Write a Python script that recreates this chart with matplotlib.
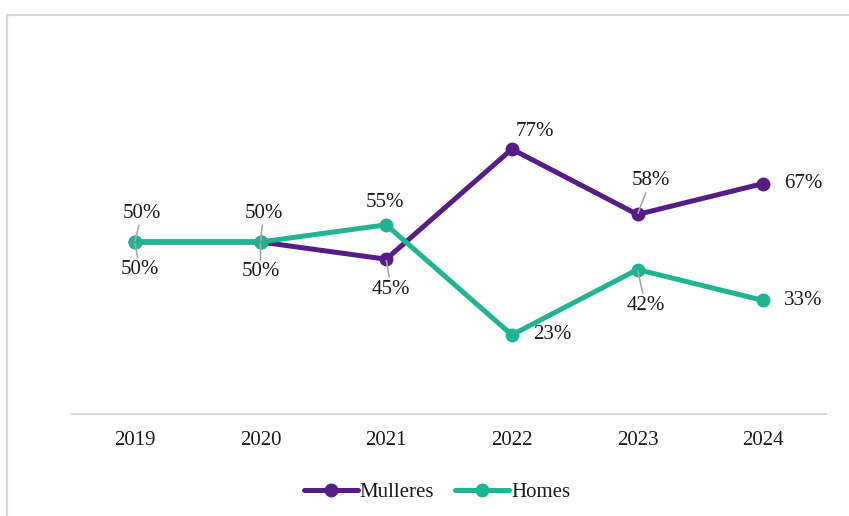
import matplotlib
matplotlib.use("Agg")
import matplotlib.pyplot as plt
from matplotlib.lines import Line2D

years = ["2019", "2020", "2021", "2022", "2023", "2024"]
mulleres = [50, 50, 45, 77, 58, 67]
homes = [50, 50, 55, 23, 42, 33]

purple = "#581C87"
teal = "#20B493"
grey_line = "#D9D9D9"
text_col = "#1A1A1A"
fs = 15

plt.rcParams["font.family"] = ["Liberation Serif", "DejaVu Serif"]

W, H = 849, 516
fig = plt.figure(figsize=(W / 100, H / 100), dpi=100)
ax = fig.add_axes([72 / W, 102 / H, 754 / W, 344 / H])

x = list(range(len(years)))
ax.plot(x, mulleres, color=purple, lw=3.6, marker="o", ms=9, label="Mulleres",
        solid_capstyle="round", zorder=3)
ax.plot(x, homes, color=teal, lw=3.6, marker="o", ms=9, label="Homes",
        solid_capstyle="round", zorder=4)

ax.set_xlim(-0.5, len(years) - 0.5)
ax.set_ylim(0, 100)
ax.set_xticks(x)
ax.set_xticklabels(years, fontsize=fs, color=text_col)
ax.tick_params(axis="x", length=0, pad=12)
ax.set_yticks([])
for s in ["top", "right", "left"]:
    ax.spines[s].set_visible(False)
ax.spines["bottom"].set_color(grey_line)
ax.spines["bottom"].set_linewidth(1.5)


# label offsets in pixels (dx right, dy down) and whether a leader line is drawn
def px(dx, dy):
    return (dx * 0.72, -dy * 0.72)


m_off = [(5, 28, True), (0, 30, True), (5, 30, True), (23, -18, False), (13, -34, True), (40, 0, False)]
h_off = [(7, -29, True), (3, -29, True), (-1, -22, False), (40, 0, False), (8, 36, True), (40, 0, False)]

for vals, offs in [(mulleres, m_off), (homes, h_off)]:
    for i, (v, (dx, dy, lead)) in enumerate(zip(vals, offs)):
        kw = {}
        if lead:
            kw["arrowprops"] = dict(arrowstyle="-", color="#A6A6A6", lw=1.2,
                                    shrinkA=0, shrinkB=1)
        ax.annotate(f"{v}%", (i, v), xytext=px(dx, dy), textcoords="offset points",
                    ha="center", va="center", fontsize=fs, color=text_col,
                    zorder=5, **kw)

leg = fig.legend(loc="center", bbox_to_anchor=(437 / W, 1 - 492 / H), ncol=2,
                 frameon=False, fontsize=fs, handlelength=2.6, columnspacing=1.0,
                 handletextpad=0.1)
for t in leg.get_texts():
    t.set_color(text_col)

# outer border (partially cropped)
fig.add_artist(Line2D([7 / W, 7 / W], [0, 1 - 15 / H], transform=fig.transFigure,
                      color=grey_line, lw=1.6))
fig.add_artist(Line2D([7 / W, 1], [1 - 15 / H, 1 - 15 / H], transform=fig.transFigure,
                      color=grey_line, lw=1.6))

fig.savefig("out.png", dpi=100)
